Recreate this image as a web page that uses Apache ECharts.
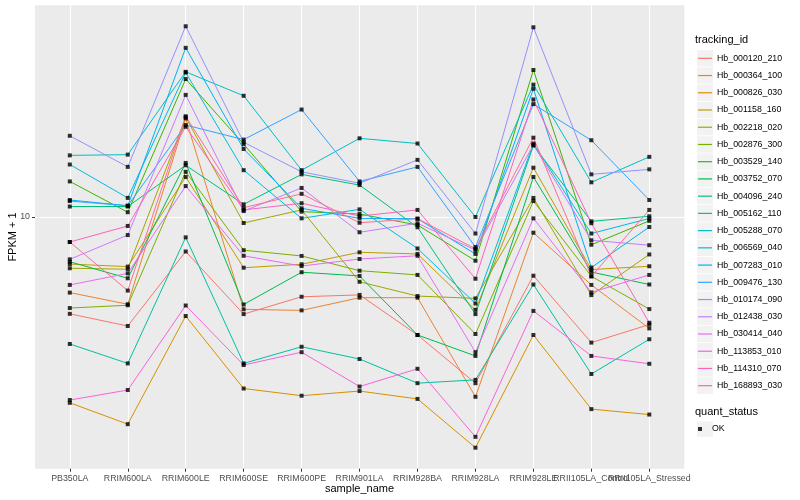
<!DOCTYPE html>
<html>
<head>
<meta charset="utf-8">
<script src="https://cdn.jsdelivr.net/npm/echarts@6/dist/echarts.min.js"></script>
<style>
html,body{margin:0;padding:0;background:#fff;}
#chart{width:800px;height:500px;}
</style>
</head>
<body>
<div id="chart"></div>
<script>
// ---- data (FPKM + 1) ----
const sample_name = ['PB350LA','RRIM600LA','RRIM600LE','RRIM600SE','RRIM600PE','RRIM901LA','RRIM928BA','RRIM928LA','RRIM928LE','RRII105LA_Control','RRII105LA_Stressed'];
const tracking_id = ['Hb_000120_210','Hb_000364_100','Hb_000826_030','Hb_001158_160','Hb_002218_020','Hb_002876_300','Hb_003529_140','Hb_003752_070','Hb_004096_240','Hb_005162_110','Hb_005288_070','Hb_006569_040','Hb_007283_010','Hb_009476_130','Hb_010174_090','Hb_012438_030','Hb_030414_040','Hb_113853_010','Hb_114310_070','Hb_168893_030'];
const Hb_000120_210 = [4.51, 4.08, 7.53, 4.50, 5.19, 5.27, 3.79, 2.55, 6.17, 3.56, 4.13];
const Hb_000364_100 = [5.37, 4.88, 22.5, 4.68, 4.64, 5.15, 5.15, 2.28, 8.79, 5.72, 4.00];
const Hb_000826_030 = [2.17, 1.82, 4.43, 2.44, 2.30, 2.39, 2.24, 1.50, 3.79, 2.06, 1.97];
const Hb_001158_160 = [6.79, 6.65, 13.9, 6.59, 6.78, 7.48, 7.38, 4.66, 15.0, 6.49, 6.67];
const Hb_002218_020 = [6.56, 6.51, 22.7, 9.52, 10.6, 5.87, 5.22, 5.12, 11.7, 5.26, 7.35];
const Hb_002876_300 = [4.73, 4.84, 14.5, 7.61, 7.26, 6.43, 6.21, 3.82, 11.4, 6.14, 4.69];
const Hb_003529_140 = [13.4, 10.4, 31.1, 18.2, 10.45, 10.25, 9.36, 6.98, 33.5, 7.96, 9.69];
const Hb_003752_070 = [6.92, 6.04, 15.6, 4.87, 6.35, 6.16, 3.79, 3.19, 13.9, 6.36, 5.74];
const Hb_004096_240 = [10.9, 10.9, 15.3, 11.1, 14.2, 13.0, 9.19, 4.50, 18.0, 9.65, 10.06];
const Hb_005162_110 = [3.52, 3.00, 8.46, 3.00, 3.44, 3.11, 2.55, 2.62, 5.74, 2.75, 3.66];
const Hb_005288_070 = [16.6, 16.7, 33.0, 27.1, 14.7, 19.1, 18.3, 10.0, 29.7, 13.3, 16.4];
const Hb_006569_040 = [15.4, 11.7, 32.8, 14.7, 9.89, 10.65, 7.72, 4.91, 18.3, 8.73, 9.88];
const Hb_007283_010 = [11.5, 10.97, 40.2, 17.5, 10.74, 9.89, 9.86, 7.38, 28.7, 6.60, 9.21];
const Hb_009476_130 = [11.4, 10.97, 21.3, 18.9, 24.2, 13.4, 15.1, 7.81, 25.3, 18.8, 11.5];
const Hb_010174_090 = [19.5, 15.1, 48.0, 18.5, 14.5, 13.2, 16.0, 8.73, 47.6, 14.2, 14.8];
const Hb_012438_030 = [7.06, 8.62, 27.3, 10.5, 12.7, 8.82, 9.50, 7.62, 18.1, 8.26, 7.93];
const Hb_030414_040 = [5.72, 6.29, 12.9, 7.27, 6.68, 7.08, 7.27, 3.29, 9.89, 5.38, 6.21];
const Hb_113853_010 = [2.22, 2.41, 4.83, 2.96, 3.29, 2.48, 2.87, 1.64, 4.62, 3.19, 2.99];
const Hb_114310_070 = [8.14, 9.29, 21.0, 10.6, 11.2, 10.08, 10.6, 6.02, 26.3, 9.50, 4.19];
const Hb_168893_030 = [8.14, 5.46, 22.9, 10.8, 12.1, 9.54, 9.86, 7.70, 19.2, 6.14, 10.6];
const y_ticks = [10];
const quant_status = ['OK'];

const seriesValues = [Hb_000120_210, Hb_000364_100, Hb_000826_030, Hb_001158_160, Hb_002218_020,
  Hb_002876_300, Hb_003529_140, Hb_003752_070, Hb_004096_240, Hb_005162_110, Hb_005288_070,
  Hb_006569_040, Hb_007283_010, Hb_009476_130, Hb_010174_090, Hb_012438_030, Hb_030414_040,
  Hb_113853_010, Hb_114310_070, Hb_168893_030];

// ---- styles ----
const colors = ['#F8766D','#EA8331','#D89000','#C09B00','#A3A500','#7CAE00','#39B600','#00BB4E','#00BF7D','#00C1A3','#00BFC4','#00BAE0','#00B0F6','#35A2FF','#9590FF','#C77CFF','#E76BF3','#FA62DB','#FF62BC','#FF6C91'];
const FONT = 'Liberation Sans, Arial, Helvetica, sans-serif';
const Y_MIN = 1.262, Y_MAX = 57.03;
const legendTop = 49.7, legendStep = 17.23;

const chart = echarts.init(document.getElementById('chart'), null, {renderer: 'canvas'});

const lineSeries = tracking_id.map((name, k) => ({
  name: name,
  type: 'line',
  xAxisIndex: 1, yAxisIndex: 1,
  data: seriesValues[k],
  color: colors[k],
  showSymbol: false,
  symbol: 'none',
  clip: false,
  lineStyle: {width: 1, color: colors[k]},
  emphasis: {disabled: true},
  silent: true,
  z: 2
}));

const pointData = [];
seriesValues.forEach(arr => arr.forEach((v, i) => pointData.push([sample_name[i], v])));

const keyRects = tracking_id.map((n, i) => ({
  type: 'rect',
  shape: {x: 697, y: legendTop + i * legendStep + 0.4, width: 16, height: 16.4},
  style: {fill: '#F2F2F2'},
  z: -1
}));
keyRects.push({
  type: 'rect',
  shape: {x: 697, y: 421.5, width: 16, height: 15.5},
  style: {fill: '#F2F2F2'},
  z: -1
});

chart.setOption({
  animation: false,
  backgroundColor: '#FFFFFF',
  textStyle: {fontFamily: FONT},
  title: [
    {text: 'tracking_id', left: 695, top: 34.5, padding: 0,
     textStyle: {fontSize: 11, fontWeight: 'normal', color: '#000', fontFamily: FONT}},
    {text: 'quant_status', left: 695, top: 406, padding: 0,
     textStyle: {fontSize: 11, fontWeight: 'normal', color: '#000', fontFamily: FONT}}
  ],
  graphic: keyRects,
  legend: [
    {
      data: tracking_id,
      orient: 'vertical',
      left: 698, top: legendTop,
      padding: 0, itemGap: 0,
      itemWidth: 14, itemHeight: 1.2,
      icon: 'rect',
      selectedMode: false,
      textStyle: {fontSize: 8.8, color: '#000', lineHeight: legendStep, fontFamily: FONT}
    },
    {
      data: quant_status,
      orient: 'vertical',
      left: 698, top: 420.5,
      padding: 0, itemGap: 0,
      itemWidth: 14, itemHeight: 4,
      icon: 'path://M0,0 L1,0 L1,1 L0,1 Z',
      symbolKeepAspect: true,
      selectedMode: false,
      textStyle: {fontSize: 8.8, color: '#000', lineHeight: 17, fontFamily: FONT}
    }
  ],
  grid: [
    {left: 35, right: 115.7, top: 5.3, bottom: 31.3, show: true, backgroundColor: '#EBEBEB', borderWidth: 0,
     containLabel: false, outerBoundsMode: 'none'},
    {left: 69.8, right: 150.7, top: 5.3, bottom: 31.3, show: false,
     containLabel: false, outerBoundsMode: 'none'}
  ],
  xAxis: [
    {gridIndex: 0, type: 'value', min: 0, max: 1, show: false},
    {
      gridIndex: 1, type: 'category', data: sample_name, boundaryGap: false,
      axisLine: {show: false},
      axisTick: {show: true, length: 3, lineStyle: {color: '#333333', width: 1}},
      axisLabel: {interval: 0, fontSize: 8.8, color: '#4D4D4D', margin: 5, fontFamily: FONT},
      splitLine: {show: true, lineStyle: {color: '#FFFFFF', width: 1.1}},
      name: 'sample_name', nameLocation: 'middle', nameGap: 15, nameMoveOverlap: false,
      nameTextStyle: {fontSize: 11, color: '#000', fontFamily: FONT}
    }
  ],
  yAxis: [
    {
      gridIndex: 0, type: 'log', logBase: 10, min: Y_MIN, max: Y_MAX,
      axisLine: {show: false},
      axisTick: {show: true, length: 3, customValues: y_ticks, lineStyle: {color: '#333333', width: 1}},
      axisLabel: {
        customValues: y_ticks,
        showMinLabel: false, showMaxLabel: false,
        fontSize: 8.8, color: '#4D4D4D', margin: 5, fontFamily: FONT,
        formatter: v => (y_ticks.some(t => Math.abs(v - t) < 1e-6) ? String(v) : '')
      },
      splitLine: {show: true, lineStyle: {color: '#FFFFFF', width: 1.1}},
      name: 'FPKM + 1', nameLocation: 'middle', nameGap: 17, nameRotate: 90, nameMoveOverlap: false,
      nameTextStyle: {fontSize: 11, color: '#000', fontFamily: FONT}
    },
    {gridIndex: 1, type: 'log', logBase: 10, min: Y_MIN, max: Y_MAX, show: false}
  ],
  series: lineSeries.concat([{
    name: 'OK',
    type: 'scatter',
    xAxisIndex: 1, yAxisIndex: 1,
    data: pointData,
    symbol: 'rect',
    symbolSize: 4,
    itemStyle: {color: '#000000'},
    color: '#000000',
    clip: false,
    silent: true,
    z: 5
  }])
});
</script>
</body>
</html>
